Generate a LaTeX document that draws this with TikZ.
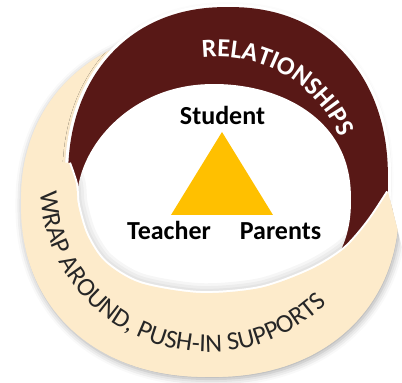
\documentclass[tikz,border=0pt]{standalone}
\usepackage{fontspec}
\setmainfont{Carlito}
\usetikzlibrary{calc,decorations.text,shadows.blur}
\definecolor{ringred}{RGB}{88,24,22}
\definecolor{ringcream}{RGB}{253,235,203}
\definecolor{trigold}{RGB}{255,192,0}
\newcommand{\roleface}{\fontsize{18.5}{20}\selectfont\bfseries}
\newcommand{\arcface}{\fontsize{18.5}{20}\selectfont}
\tikzset{role/.style={font=\roleface, inner sep=0pt, anchor=base},
  rim/.style={domain=0.5:355.5, samples=72, smooth cycle}}

\begin{document}
\begin{tikzpicture}[x=0.25mm,y=0.25mm]
\useasboundingbox (0,0) rectangle (402,383);

% outer cream rim, tucked under the maroon at the top right
\path[save path=\creamcut] (-20,-20) -- (430,-20) -- (430,125) -- (402,135) -- (388,191) -- (378,196) -- (378,400) -- (-20,400) -- cycle;
\begin{scope}
  \clip[use path=\creamcut];
  \fill[ringcream, blur shadow={shadow xshift=1pt, shadow yshift=-1.5pt, shadow blur radius=5pt, shadow opacity=35}, save path=\creamrim]
    plot[rim] ({210+189*cos(\x)*abs(cos(\x))^(-0.09)}, {180+174*sin(\x)*abs(sin(\x))^(-0.09)});
\end{scope}

% maroon rim with a white halo
\path[blur shadow={shadow xshift=0pt, shadow yshift=-0.5pt, shadow blur radius=4pt, shadow opacity=20}, save path=\maroonrim]
  plot[rim] ({228+160*cos(\x)*abs(cos(\x))^(-0.09)}, {204+172*sin(\x)*abs(sin(\x))^(-0.09)});
\draw[white, line width=1.6mm, use path=\maroonrim];
\fill[ringred, use path=\maroonrim];

% white middle
\fill[white, save path=\holerim]
  plot[rim] ({214+137*cos(\x)*abs(cos(\x))^(-0.025-0.075*cos(\x))}, {183+116*sin(\x)*abs(sin(\x))^(-0.025-0.075*cos(\x))});

% lower cream band, lying over the maroon rim
\foreach \x/\y [count=\i] in {69/220, 76/199, 78/178, 87/148, 105/121, 140/100, 200/90, 260/95, 310/113, 344/134, 368/161, 388/191}
  \coordinate (b\i) at (\x,\y);
\begin{scope}
  \clip[use path=\holerim];
  \foreach \w in {14,10,6}
    \draw[black, opacity=0.035, line width=\w pt] plot[smooth] coordinates {(b1) (b2) (b3) (b4) (b5) (b6) (b7) (b8) (b9) (b10) (b11) (b12)};
\end{scope}
\draw[white, line width=1mm] plot[smooth] coordinates {(b1) (b2) (b3) (b4) (b5) (b6) (b7) (b8) (b9) (b10) (b11) (b12)};
\begin{scope}
  \clip[use path=\creamcut];
  \clip[use path=\creamrim];
  \fill[ringcream] (-20,233) -- plot[smooth] coordinates {(b1) (b2) (b3) (b4) (b5) (b6) (b7) (b8) (b9) (b10) (b11) (b12)} -- (430,200) |- (-20,-20) -- cycle;
\end{scope}

% curved labels
\coordinate (relc) at (218,193);
\path[decorate, decoration={text along path, text={|\arcface\bfseries|RELATIONSHIPS}, text color=white, text align=center}]
  ($(relc)+(110:133)$) arc[start angle=110, end angle=10, radius=133];
\coordinate (wrapc) at (208,199);
\path[decorate, decoration={text along path, text={|\arcface|WRAP AROUND, PUSH-IN SUPPORTS}, text color=black!85, text align=center}]
  ($(wrapc)+(178:168)$) arc[start angle=178, end angle=320, radius=168];

% triangle and its corners
\coordinate (apex) at (222,251);
\coordinate (baseL) at (171,168);
\coordinate (baseR) at (273,168);
\fill[trigold] (apex) -- (baseL) -- (baseR) -- cycle;

\node[role] (student) at (222.5,258) {Student};
\node[role] (teacher) at (169,143) {Teacher};
\node[role] (parents) at (280.5,143) {Parents};
\end{tikzpicture}
\end{document}
